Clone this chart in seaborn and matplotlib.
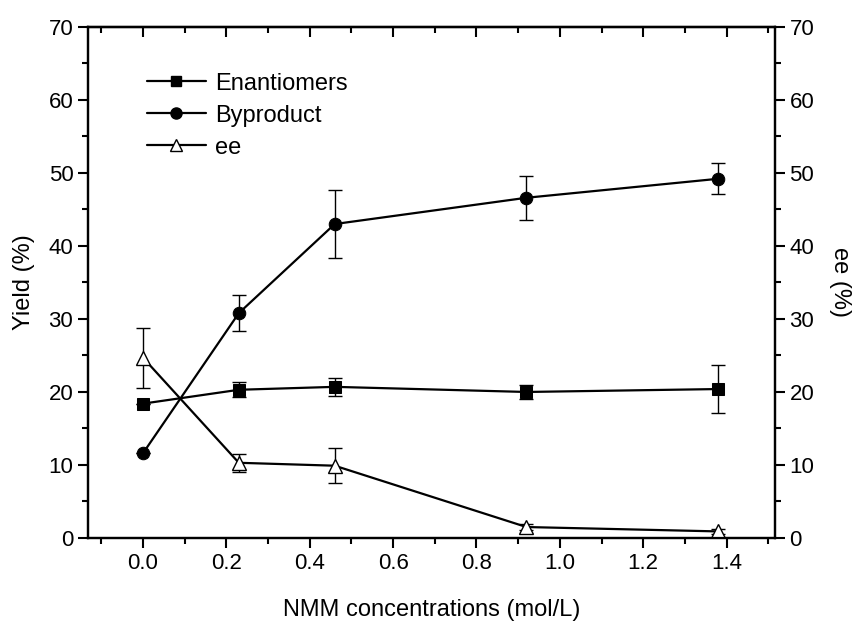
#!/usr/bin/env python
# encoding: utf-8

import numpy as np
import pandas as pd
import matplotlib
matplotlib.use("Agg")
import matplotlib.pyplot as plt
from matplotlib.lines import Line2D
from matplotlib.ticker import MultipleLocator, FormatStrFormatter
import seaborn as sns


# NMM concentration (mol/L)
conc = [0.0, 0.23, 0.46, 0.92, 1.38]

# yields (%) and their error bars
enantiomers = [18.4, 20.3, 20.7, 20.0, 20.4]
enantiomers_err = [0.0, 1.0, 1.2, 1.0, 3.3]
byproduct = [11.6, 30.8, 43.0, 46.6, 49.2]
byproduct_err = [0.0, 2.5, 4.7, 3.0, 2.1]

# ee (%) on the right axis
ee = [24.7, 10.3, 9.9, 1.5, 0.9]
ee_err = [4.1, 1.2, 2.4, 0.4, 0.3]


def style_axis(ax):
    ax.tick_params(which="major", length=7, width=1.5, labelsize=16,
                   direction="out", colors="black")
    ax.tick_params(which="minor", length=4, width=1.5, direction="out", colors="black")
    for s in ax.spines.values():
        s.set_linewidth(1.6)
        s.set_color("black")


def main():
    sns.set_style("ticks")
    plt.rcParams["font.family"] = ["Liberation Sans", "DejaVu Sans"]
    plt.rcParams["text.color"] = "black"
    plt.rcParams["axes.labelcolor"] = "black"

    df = pd.DataFrame({"conc": conc, "enantiomers": enantiomers,
                       "byproduct": byproduct, "ee": ee})

    fig = plt.figure(figsize=(8.62, 6.26), dpi=100)
    ax = fig.add_axes([0.102, 0.1406, 0.797, 0.8164])

    # error bars first, then lines + markers on top
    ax.errorbar(conc, enantiomers, yerr=enantiomers_err, fmt="none",
                ecolor="black", elinewidth=1, capsize=5, capthick=1)
    ax.errorbar(conc, byproduct, yerr=byproduct_err, fmt="none",
                ecolor="black", elinewidth=1, capsize=5, capthick=1)

    sns.lineplot(data=df, x="conc", y="enantiomers", ax=ax, color="black",
                 marker="s", markersize=8, linewidth=1.6, markeredgecolor="black")
    sns.lineplot(data=df, x="conc", y="byproduct", ax=ax, color="black",
                 marker="o", markersize=9, linewidth=1.6, markeredgecolor="black")

    ax.set_xlim(-0.132, 1.516)
    ax.set_ylim(0, 70)
    ax.xaxis.set_major_locator(MultipleLocator(0.2))
    ax.xaxis.set_minor_locator(MultipleLocator(0.1))
    ax.yaxis.set_major_locator(MultipleLocator(10))
    ax.yaxis.set_minor_locator(MultipleLocator(5))
    ax.xaxis.set_major_formatter(FormatStrFormatter("%.1f"))
    ax.set_xlabel("NMM concentrations (mol/L)", fontsize=17, labelpad=18)
    ax.set_ylabel("Yield (%)", fontsize=17, labelpad=10)
    style_axis(ax)

    # right axis for ee
    ax2 = ax.twinx()
    ax2.errorbar(conc, ee, yerr=ee_err, fmt="none",
                 ecolor="black", elinewidth=1, capsize=5, capthick=1)
    sns.lineplot(data=df, x="conc", y="ee", ax=ax2, color="black",
                 marker="^", markersize=10, linewidth=1.6,
                 markerfacecolor="white", markeredgecolor="black",
                 markeredgewidth=1)
    ax2.set_ylim(0, 70)
    ax2.yaxis.set_major_locator(MultipleLocator(10))
    ax2.yaxis.set_minor_locator(MultipleLocator(5))
    ax2.set_ylabel("ee (%)", fontsize=17, rotation=270, labelpad=26)
    style_axis(ax2)

    # top ticks point inward, no labels
    ax3 = ax.secondary_xaxis("top")
    ax3.xaxis.set_major_locator(MultipleLocator(0.2))
    ax3.xaxis.set_minor_locator(MultipleLocator(0.1))
    ax3.tick_params(which="major", direction="in", length=7, width=1.5,
                    labeltop=False, colors="black")
    ax3.tick_params(which="minor", direction="in", length=4, width=1.5, colors="black")
    ax3.spines["top"].set_linewidth(1.6)
    ax3.spines["top"].set_color("black")

    handles = [
        Line2D([], [], color="black", marker="s", markersize=7, linewidth=1.6),
        Line2D([], [], color="black", marker="o", markersize=8, linewidth=1.6),
        Line2D([], [], color="black", marker="^", markersize=9, linewidth=1.6,
               markerfacecolor="white", markeredgewidth=1),
    ]
    leg = ax.legend(handles, ["Enantiomers", "Byproduct", "ee"], loc="upper left",
                    bbox_to_anchor=(0.055, 0.952), frameon=False, fontsize=17,
                    handlelength=2.5, labelspacing=0.42, handletextpad=0.4)
    for t in leg.get_texts():
        t.set_color("black")

    fig.savefig("out.png", dpi=100)


if __name__ == "__main__":
    main()
